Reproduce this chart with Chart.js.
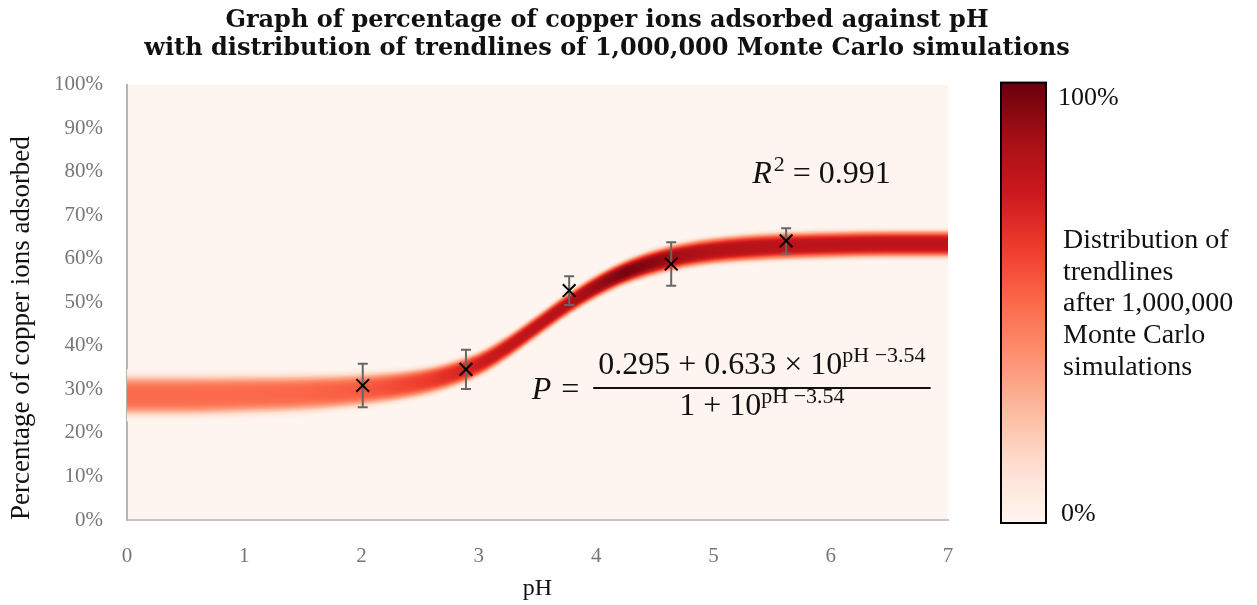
<!DOCTYPE html>
<html>
<head>
    <title>Copper ion adsorption against pH</title>
    <script src="https://cdn.jsdelivr.net/npm/chart.js"></script>
    <style>
        html, body { margin: 0; padding: 0; background: #ffffff; }
        .chart-box { width: 1257px; height: 605px; }
    </style>
</head>
<body>
    <div class="chart-box">
        <canvas id="phChart"></canvas>
    </div>

    <script>
        // measured points
        const phValues = [2.01, 2.89, 3.77, 4.64, 5.62];
        const adsorbed = [30.9, 34.6, 52.7, 58.8, 64.1];
        const errors = [5.0, 4.5, 3.3, 5.0, 2.9];

        // trendline distribution band: centre, half width and peak density along pH
        const bandPH = [0, 0.5, 1, 1.5, 2, 2.5, 2.75, 3, 3.25, 3.5, 3.75, 4, 4.25, 4.5, 4.75, 5, 5.5, 6, 6.5, 7];
        const bandCentre = [28.6, 28.6, 28.8, 29.1, 29.9, 31.6, 33.3, 35.8, 39.8, 44.6, 49.4, 53.6, 56.9, 59.2, 60.8, 61.8, 62.8, 63.2, 63.4, 63.4];
        const bandHalfWidth = [6.0, 6.0, 5.8, 5.5, 4.9, 4.2, 3.9, 3.6, 3.4, 3.3, 3.3, 3.4, 3.5, 3.7, 3.8, 3.9, 4.0, 4.0, 4.0, 4.0];
        const bandDensity = [0.50, 0.50, 0.50, 0.51, 0.54, 0.62, 0.68, 0.74, 0.78, 0.80, 0.83, 0.90, 0.97, 0.93, 0.86, 0.83, 0.81, 0.80, 0.80, 0.80];

        const xTicks = [0, 1, 2, 3, 4, 5, 6, 7];
        const yTicks = [0, 10, 20, 30, 40, 50, 60, 70, 80, 90, 100];
        const legendLines = ['Distribution of', 'trendlines', 'after 1,000,000', 'Monte Carlo', 'simulations'];

        const SERIF = "'Liberation Serif', 'Times New Roman', serif";
        const TITLE_SERIF = "'DejaVu Serif', serif";
        const LAYERS = 22;

        // matplotlib "Reds"
        const redsStops = [[255,245,240],[254,224,210],[252,187,161],[252,146,114],[251,106,74],[239,59,44],[203,24,29],[165,15,21],[103,0,13]];
        function reds(v) {
            v = Math.max(0, Math.min(1, v));
            const s = v * (redsStops.length - 1);
            const i = Math.min(Math.floor(s), redsStops.length - 2);
            const f = s - i;
            const a = redsStops[i], b = redsStops[i + 1];
            return 'rgb(' + a.map((c, j) => Math.round(c + (b[j] - c) * f)).join(',') + ')';
        }
        // density falls off across the band, flat in the middle
        function profile(t) {
            return Math.exp(-Math.pow(t / 0.72, 4));
        }

        function bandGradient(t) {
            return function (c) {
                const chart = c.chart;
                const xs = chart.scales.x;
                if (!chart.chartArea || !xs) return 'rgba(0,0,0,0)';
                const first = bandPH[0], last = bandPH[bandPH.length - 1];
                const g = chart.ctx.createLinearGradient(xs.getPixelForValue(first), 0, xs.getPixelForValue(last), 0);
                bandPH.forEach((ph, i) => {
                    g.addColorStop((ph - first) / (last - first), reds(bandDensity[i] * profile(t)));
                });
                return g;
            };
        }

        const bandDatasets = [];
        for (let k = 0; k < LAYERS; k++) {
            const t = 1 - k / LAYERS;
            bandDatasets.push({
                label: 'band' + k,
                data: bandPH.map((ph, i) => ({ x: ph, y: bandCentre[i] + bandHalfWidth[i] * t })),
                fill: '+1',
                backgroundColor: bandGradient(t),
                borderWidth: 0,
                borderColor: 'rgba(0,0,0,0)',
                pointRadius: 0,
                cubicInterpolationMode: 'monotone',
                order: LAYERS - k + 1
            });
            bandDatasets.push({
                label: 'band' + k + 'low',
                data: bandPH.map((ph, i) => ({ x: ph, y: bandCentre[i] - bandHalfWidth[i] * t })),
                fill: false,
                borderWidth: 0,
                borderColor: 'rgba(0,0,0,0)',
                pointRadius: 0,
                cubicInterpolationMode: 'monotone',
                order: LAYERS - k + 1
            });
        }

        const pointDataset = {
            label: 'Measured',
            data: phValues.map((ph, i) => ({ x: ph, y: adsorbed[i] })),
            showLine: false,
            pointStyle: 'crossRot',
            pointRadius: 9,
            pointBorderWidth: 2,
            pointBorderColor: '#000000',
            pointBackgroundColor: '#000000',
            order: 0
        };
        const pointIndex = bandDatasets.length;

        const plotBackground = {
            id: 'plotBackground',
            beforeDraw(chart) {
                const { ctx, chartArea } = chart;
                ctx.save();
                ctx.fillStyle = '#fef4f0';
                ctx.fillRect(chartArea.left, chartArea.top, chartArea.right - chartArea.left, chartArea.bottom - chartArea.top);
                ctx.restore();
            }
        };

        const errorBars = {
            id: 'errorBars',
            beforeDatasetDraw(chart, args) {
                if (args.index !== pointIndex) return;
                const { ctx } = chart;
                const xs = chart.scales.x, ys = chart.scales.y;
                ctx.save();
                ctx.strokeStyle = '#666666';
                ctx.lineWidth = 2;
                phValues.forEach((ph, i) => {
                    const x = xs.getPixelForValue(ph);
                    const top = ys.getPixelForValue(adsorbed[i] + errors[i]);
                    const bottom = ys.getPixelForValue(adsorbed[i] - errors[i]);
                    ctx.beginPath();
                    ctx.moveTo(x, top); ctx.lineTo(x, bottom);
                    ctx.moveTo(x - 5, top); ctx.lineTo(x + 5, top);
                    ctx.moveTo(x - 5, bottom); ctx.lineTo(x + 5, bottom);
                    ctx.stroke();
                });
                ctx.restore();
            }
        };

        // R^2 and fitted equation, placed in data units
        const equations = {
            id: 'equations',
            afterDatasetsDraw(chart) {
                const { ctx } = chart;
                const xs = chart.scales.x, ys = chart.scales.y;
                const big = '32px ' + SERIF, bigItalic = 'italic 32px ' + SERIF, small = '22px ' + SERIF;
                ctx.save();
                ctx.fillStyle = '#111111';
                ctx.textBaseline = 'alphabetic';
                ctx.textAlign = 'left';

                // R^2 = 0.991
                let x = xs.getPixelForValue(5.33);
                let y = ys.getPixelForValue(77.5);
                ctx.font = bigItalic; ctx.fillText('R', x, y); x += ctx.measureText('R').width + 2;
                ctx.font = small; ctx.fillText('2', x, y - 12); x += ctx.measureText('2').width;
                ctx.font = big; ctx.fillText(' = 0.991', x, y);

                // P = fraction
                x = xs.getPixelForValue(3.45);
                const lineY = ys.getPixelForValue(30.3);
                ctx.font = bigItalic; ctx.fillText('P', x, lineY + 11); x += ctx.measureText('P').width + 10;
                ctx.font = big; ctx.fillText('=', x, lineY + 11); x += ctx.measureText('=').width + 14;

                const sup = 'pH \u22123.54';
                ctx.font = big;
                const numMain = '0.295 + 0.633 \u00d7 10';
                const denMain = '1 + 10';
                const numW = ctx.measureText(numMain).width;
                const denW = ctx.measureText(denMain).width;
                ctx.font = small;
                const supW = ctx.measureText(sup).width;
                const fracW = Math.max(numW, denW) + supW + 10;

                ctx.strokeStyle = '#111111';
                ctx.lineWidth = 2;
                ctx.beginPath();
                ctx.moveTo(x, lineY); ctx.lineTo(x + fracW, lineY);
                ctx.stroke();

                let nx = x + (fracW - numW - supW) / 2;
                ctx.font = big; ctx.fillText(numMain, nx, lineY - 14);
                ctx.font = small; ctx.fillText(sup, nx + numW, lineY - 26);

                let dx = x + (fracW - denW - supW) / 2;
                ctx.font = big; ctx.fillText(denMain, dx, lineY + 27);
                ctx.font = small; ctx.fillText(sup, dx + denW, lineY + 15);
                ctx.restore();
            }
        };

        // colour bar for the trendline density
        const colourBar = {
            id: 'colourBar',
            afterDraw(chart) {
                const { ctx, chartArea } = chart;
                const left = chartArea.right + 53, width = 45;
                const top = chartArea.top - 2, bottom = chartArea.bottom + 3;
                ctx.save();
                const g = ctx.createLinearGradient(0, bottom, 0, top);
                for (let i = 0; i <= 20; i++) g.addColorStop(i / 20, reds(i / 20));
                ctx.fillStyle = g;
                ctx.fillRect(left, top, width, bottom - top);
                ctx.strokeStyle = '#000000';
                ctx.lineWidth = 2;
                ctx.strokeRect(left, top, width, bottom - top);

                ctx.fillStyle = '#111111';
                ctx.textAlign = 'left';
                ctx.textBaseline = 'alphabetic';
                ctx.font = '26px ' + SERIF;
                ctx.fillText('100%', left + 57, top + 22);
                ctx.fillText('0%', left + 60, bottom - 2);
                ctx.font = '28px ' + SERIF;
                legendLines.forEach((line, i) => {
                    ctx.fillText(line, left + 62, 248 + i * 31.7);
                });
                ctx.restore();
            }
        };

        const ctx = document.getElementById('phChart').getContext('2d');
        new Chart(ctx, {
            type: 'line',
            data: {
                datasets: [...bandDatasets, pointDataset]
            },
            plugins: [plotBackground, errorBars, equations, colourBar],
            options: {
                responsive: true,
                maintainAspectRatio: false,
                animation: false,
                layout: {
                    padding: { left: 0, right: 43, top: 0, bottom: 0 }
                },
                plugins: {
                    legend: { display: false },
                    tooltip: { enabled: false },
                    filler: { propagate: false },
                    title: {
                        display: true,
                        text: ['Graph of percentage of copper ions adsorbed against pH',
                               'with distribution of trendlines of 1,000,000 Monte Carlo simulations'],
                        color: '#111111',
                        font: { family: TITLE_SERIF, size: 24, weight: 'bold', lineHeight: 1.2 },
                        padding: { top: 6, bottom: 21 }
                    }
                },
                scales: {
                    x: {
                        type: 'linear',
                        min: 0,
                        max: 7,
                        afterBuildTicks(scale) { scale.ticks = xTicks.map(v => ({ value: v })); },
                        afterFit(scale) { scale.height = 85; },
                        ticks: {
                            color: '#777777',
                            padding: 24,
                            font: { family: SERIF, size: 21 }
                        },
                        grid: { display: false, drawTicks: false },
                        border: { color: '#c4c4c4', width: 2 },
                        title: {
                            display: true,
                            text: 'pH',
                            color: '#111111',
                            font: { family: SERIF, size: 24 },
                            padding: { top: 0, bottom: 2 }
                        }
                    },
                    y: {
                        type: 'linear',
                        min: 0,
                        max: 100,
                        afterBuildTicks(scale) { scale.ticks = yTicks.map(v => ({ value: v })); },
                        afterFit(scale) { scale.width = 127; },
                        ticks: {
                            color: '#777777',
                            padding: 24,
                            font: { family: SERIF, size: 21 },
                            callback: v => v + '%'
                        },
                        grid: { display: false, drawTicks: false },
                        border: { color: '#b4b4b4', width: 2 },
                        title: {
                            display: true,
                            align: 'start',
                            text: 'Percentage of copper ions adsorbed',
                            color: '#111111',
                            font: { family: SERIF, size: 27 },
                            padding: { top: 6, bottom: 0 }
                        }
                    },
                    // empty right-hand axis that reserves room for the colour bar
                    barSpace: {
                        type: 'linear',
                        position: 'right',
                        min: 0,
                        max: 100,
                        afterFit(scale) { scale.width = 266; },
                        ticks: { display: false },
                        grid: { display: false, drawTicks: false },
                        border: { display: false }
                    }
                }
            }
        });
    </script>
</body>
</html>
